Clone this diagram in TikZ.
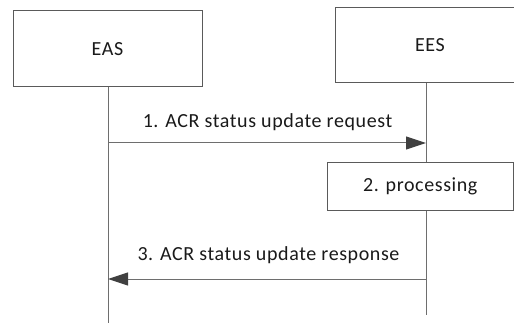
\documentclass[tikz,border=0pt]{standalone}
\usepackage{fontspec}
\setmainfont{Carlito}
\newfontfamily\labelfont[LetterSpace=3]{Carlito}
\usetikzlibrary{arrows.meta}
\definecolor{linegray}{HTML}{6E6E6E}
\definecolor{boxgray}{HTML}{5A5A5A}
\definecolor{headgray}{HTML}{404040}
\definecolor{txt}{HTML}{1A1A1A}
\tikzset{
  entity/.style={draw=boxgray, line width=1pt, fill=white, text=txt, inner sep=0pt, font=\labelfont\fontsize{20}{24}\selectfont},
  lifeline/.style={draw=linegray, line width=1pt},
  msg/.style={draw=linegray, line width=1pt, -{Triangle[length=20pt,width=13pt,color=headgray,fill=headgray]}},
  msglabel/.style={text=txt, anchor=base, inner sep=0pt, font=\labelfont\fontsize{20}{24}\selectfont}
}
\begin{document}
\begin{tikzpicture}[x=1pt,y=-1pt]
\clip (0,0) rectangle (514,323);
\fill[white] (0,0) rectangle (514,323);
% entities
\node[entity, minimum width=189pt, minimum height=76pt] (eas) at (107.5,49) {EAS};
\node[entity, minimum width=190pt, minimum height=75pt] (ees) at (430,45.5) {EES};
% lifeline coordinates
\coordinate (easTop) at (108,87);
\coordinate (easBot) at (108,324);
\coordinate (eesTop) at (426,83);
\coordinate (eesMidA) at (426,162.5);
\coordinate (eesMidB) at (426,210.5);
\coordinate (eesBot) at (426,315);
\draw[lifeline] (easTop) -- (easBot);
\draw[lifeline] (eesTop) -- (eesMidA);
\draw[lifeline] (eesMidB) -- (eesBot);
% processing
\node[entity, minimum width=185.5pt, minimum height=48pt] (proc) at (420.25,186.5) {2. processing};
% messages
\coordinate (m1s) at (108,143);
\coordinate (m1e) at (426,143);
\draw[msg] (m1s) -- (m1e);
\node[msglabel] (l1) at (267.5,128) {1. ACR status update request};
\coordinate (m3s) at (426,279);
\coordinate (m3e) at (108,279);
\draw[msg] (m3s) -- (m3e);
\node[msglabel] (l3) at (268.5,260) {3. ACR status update response};
\end{tikzpicture}
\end{document}
